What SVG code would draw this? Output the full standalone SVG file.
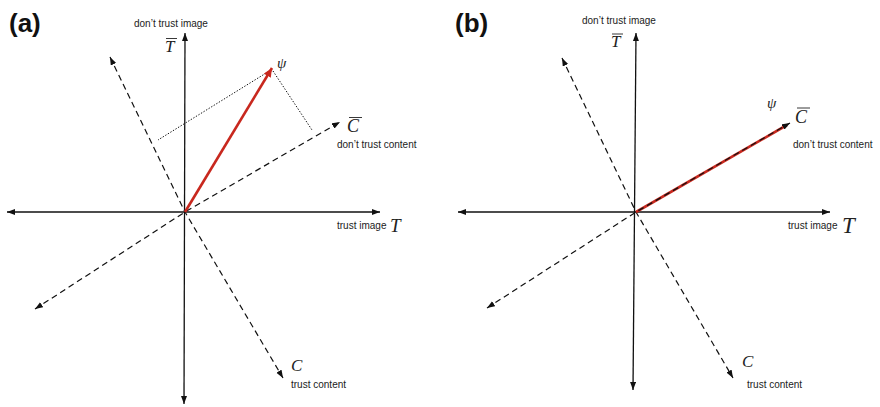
<svg xmlns="http://www.w3.org/2000/svg" width="880" height="407" viewBox="0 0 880 407">
<style>
.ax{stroke:#111;stroke-width:1.3;fill:none}
.da{stroke:#111;stroke-width:1.2;fill:none;stroke-dasharray:6 4}
.dot{stroke:#111;stroke-width:1;fill:none;stroke-dasharray:1.4 1.6}
.red{stroke:#c8281e;stroke-width:2.6;fill:none}
.lbl{font-family:"Liberation Sans",Arial,sans-serif;font-size:10px;fill:#222}
.big{font-family:"Liberation Sans",Arial,sans-serif;font-size:26px;font-weight:bold;fill:#111}
.m{font-family:"Liberation Serif","Times New Roman",serif;font-style:italic;fill:#222}
.bar{stroke:#222;stroke-width:0.9}
</style>
<defs>
<marker id="ah" markerUnits="userSpaceOnUse" markerWidth="10" markerHeight="8" refX="8" refY="3" orient="auto-start-reverse"><path d="M0,0 L8,3 L0,6 z" fill="#111"/></marker>
<marker id="ahr" markerUnits="userSpaceOnUse" markerWidth="12" markerHeight="10" refX="9" refY="4" orient="auto"><path d="M0,0 L9,4 L0,8 z" fill="#c8281e"/></marker>
</defs>

<g id="panel-a">
<text class="big" x="9" y="32">(a)</text>
<g id="connectors-a">
<line class="ax" x1="184" y1="404" x2="185" y2="33" marker-start="url(#ah)" marker-end="url(#ah)"/>
<line class="ax" x1="7" y1="212" x2="380" y2="212" marker-start="url(#ah)" marker-end="url(#ah)"/>
<path class="da" d="M110,57 L185,212 L283,378" marker-start="url(#ah)" marker-end="url(#ah)"/>
<path class="da" d="M35,309 L185,212 L340,122" marker-start="url(#ah)" marker-end="url(#ah)"/>
<line class="dot" x1="271" y1="70" x2="158" y2="140"/>
<line class="dot" x1="273" y1="71" x2="312" y2="130"/>
<line class="red" x1="185" y1="212" x2="272" y2="68" marker-end="url(#ahr)"/>
</g>
<g id="label-a-tbar">
<text class="lbl" x="134" y="27">don’t trust image</text>
<text class="m" x="165" y="52" font-size="17">T</text>
<line class="bar" x1="166" y1="38.5" x2="177" y2="38.5"/>
</g>
<g id="label-a-psi"><text class="m" x="277" y="68" font-size="15">ψ</text></g>
<g id="label-a-cbar">
<text class="m" x="347" y="132" font-size="18">C</text>
<line class="bar" x1="349" y1="117.5" x2="362" y2="117.5"/>
<text class="lbl" x="337" y="148">don’t trust content</text>
</g>
<g id="label-a-t">
<text class="lbl" x="337" y="229">trust image</text>
<text class="m" x="390" y="232" font-size="19">T</text>
</g>
<g id="label-a-c">
<text class="m" x="291" y="371" font-size="17">C</text>
<text class="lbl" x="291" y="388">trust content</text>
</g>
</g>

<g id="panel-b">
<text class="big" x="455" y="32">(b)</text>
<g id="connectors-b">
<line class="ax" x1="633" y1="390" x2="636" y2="33" marker-start="url(#ah)" marker-end="url(#ah)"/>
<line class="ax" x1="458" y1="212" x2="830" y2="212" marker-start="url(#ah)" marker-end="url(#ah)"/>
<path class="da" d="M562,58 L636,212 L733,378" marker-start="url(#ah)" marker-end="url(#ah)"/>
<line class="red" x1="636" y1="212" x2="787" y2="125"/>
<path class="da" d="M487,308 L636,212 L790,123" marker-start="url(#ah)" marker-end="url(#ah)"/>
</g>
<g id="label-b-tbar">
<text class="lbl" x="582" y="24">don’t trust image</text>
<text class="m" x="611" y="47" font-size="17">T</text>
<line class="bar" x1="612" y1="34" x2="623" y2="34"/>
</g>
<g id="label-b-psi"><text class="m" x="767" y="108" font-size="15">ψ</text></g>
<g id="label-b-cbar">
<text class="m" x="795" y="123" font-size="18">C</text>
<line class="bar" x1="797" y1="108" x2="810" y2="108"/>
<text class="lbl" x="793" y="148">don’t trust content</text>
</g>
<g id="label-b-t">
<text class="lbl" x="788" y="229">trust image</text>
<text class="m" x="842" y="233" font-size="23">T</text>
</g>
<g id="label-b-c">
<text class="m" x="742" y="367" font-size="17">C</text>
<text class="lbl" x="747" y="388">trust content</text>
</g>
</g>
</svg>
